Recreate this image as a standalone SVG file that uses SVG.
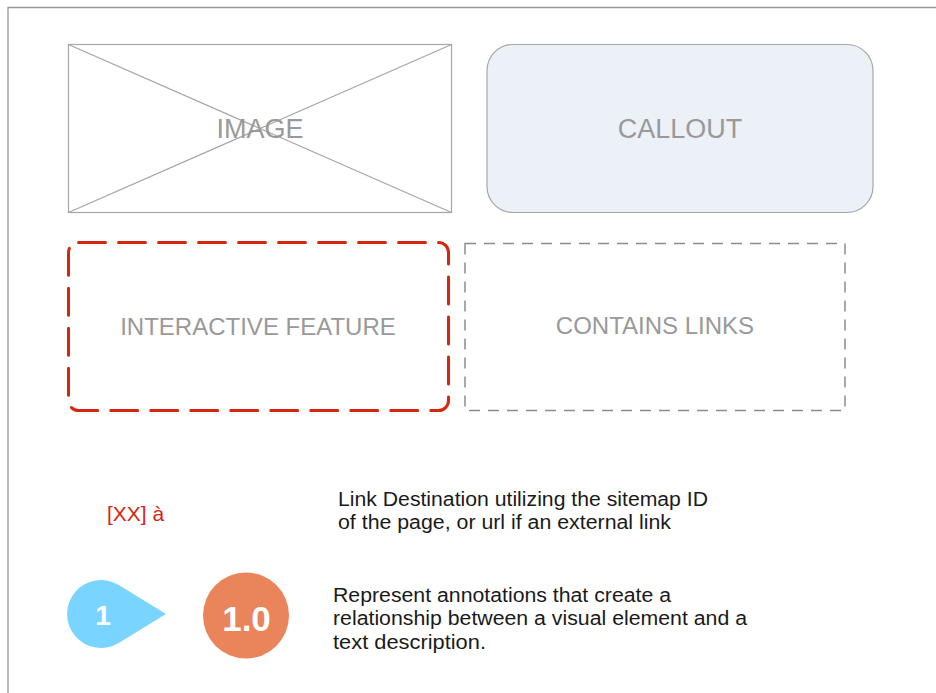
<svg xmlns="http://www.w3.org/2000/svg" width="936" height="693" viewBox="0 0 936 693">
<style>
.lbl{font-family:"Liberation Sans",Arial,sans-serif;fill:#999;text-anchor:middle}
.desc{font-family:"Liberation Sans",Arial,sans-serif;fill:#1a1a1a;font-size:20px}
.box{fill:none;stroke:#a6a6a6;stroke-width:1.2}
.badge{font-family:"Liberation Sans",Arial,sans-serif;font-weight:bold;fill:#fff;text-anchor:middle}
</style>
<rect width="936" height="693" fill="#fff"/>
<g id="frame"><path d="M8 700 V7.5 H940" fill="none" stroke="#999" stroke-width="1.3"/></g>
<g id="image">
<rect class="box" x="68.5" y="44.5" width="383" height="168" fill="#fff"/>
<line class="box" x1="68.5" y1="44.5" x2="451.5" y2="212.5"/>
<line class="box" x1="451.5" y1="44.5" x2="68.5" y2="212.5"/>
<text class="lbl" x="260" y="138" font-size="27">IMAGE</text>
</g>
<g id="callout">
<rect x="487" y="44.5" width="386" height="168" rx="26" fill="#ECF0F7" stroke="#a6a6a6" stroke-width="1.2"/>
<text class="lbl" x="680" y="138" font-size="27">CALLOUT</text>
</g>
<g id="interactive-feature">
<rect x="68.5" y="242.5" width="380" height="168" rx="10" fill="none" stroke="#D7260E" stroke-width="3" stroke-dasharray="27 13" stroke-linecap="round"/>
<text class="lbl" x="258" y="335" font-size="24">INTERACTIVE FEATURE</text>
</g>
<g id="contains-links">
<rect x="465" y="243.5" width="380" height="167" fill="none" stroke="#8c8c8c" stroke-width="1.5" stroke-dasharray="11 8"/>
<text class="lbl" x="655" y="334" font-size="24">CONTAINS LINKS</text>
</g>
<g id="link-legend">
<text x="107" y="521" font-family="'Liberation Sans',Arial,sans-serif" font-size="21" fill="#D7260E">[XX] à</text>
<text class="desc" x="338" y="506" textLength="370" lengthAdjust="spacingAndGlyphs">Link Destination utilizing the sitemap ID</text>
<text class="desc" x="338" y="529" textLength="333" lengthAdjust="spacingAndGlyphs">of the page, or url if an external link</text>
</g>
<g id="annotation-legend">
<path d="M166 614 L118.8 585 A34 34 0 1 0 118.8 643 Z" fill="#79D5FF"/>
<text class="badge" x="103" y="625" font-size="28">1</text>
<circle cx="246" cy="615.5" r="43" fill="#EA845B"/>
<text class="badge" x="246.5" y="631" font-size="35">1.0</text>
<text class="desc" x="333" y="601.5" textLength="338" lengthAdjust="spacingAndGlyphs">Represent annotations that create a</text>
<text class="desc" x="333" y="625" textLength="414" lengthAdjust="spacingAndGlyphs">relationship between a visual element and a</text>
<text class="desc" x="333" y="648.5" textLength="153" lengthAdjust="spacingAndGlyphs">text description.</text>
</g>
</svg>
